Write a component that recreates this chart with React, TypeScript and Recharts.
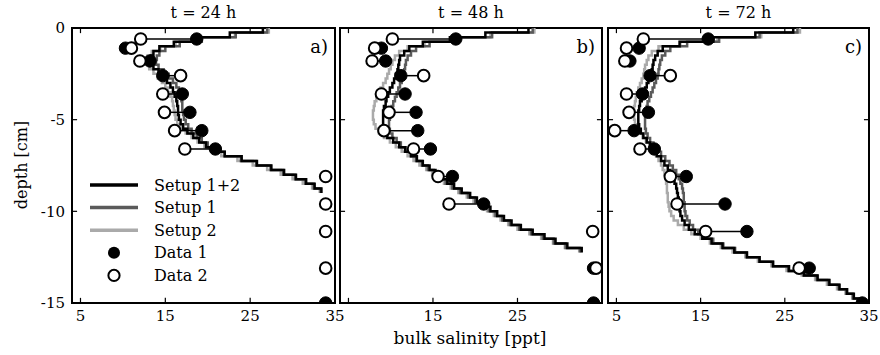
import React from 'react';
import { ComposedChart, Line, Scatter, XAxis, YAxis, ReferenceLine, ReferenceArea } from 'recharts';

// model grid: top of each layer (cm)
const DEPTH = [
  0, -0.25, -0.5, -0.75, -1, -1.25, -1.5, -1.75, -2, -2.25, -2.5, -2.75, -3, -3.25, -3.5, -3.75,
  -4, -4.25, -4.5, -4.75, -5, -5.25, -5.5, -5.75, -6, -6.25, -6.5, -6.75, -7, -7.25, -7.5, -7.75,
  -8, -8.25, -8.5, -8.75, -9, -9.25, -9.5, -9.75, -10, -10.25, -10.5, -10.75, -11, -11.25, -11.5,
  -11.75, -12, -12.25, -12.5, -12.75, -13, -13.25, -13.5, -13.75, -14, -14.25, -14.5, -14.75, -15,
];

const X_DOMAIN = [4, 35];
const Y_DOMAIN = [-15, 0];
const X_TICKS = [5, 15, 25, 35];
const Y_TICKS = [0, -5, -10, -15];
const X_LABELS_FULL = ['5', '15', '25', '35'];
const X_LABELS_MID = ['', '15', '25', ''];
const Y_LABELS = ['0', '-5', '-10', '-15'];

// t = 24 h
const S12_24 = [26.5, 22.6, 18.6, 16.0, 14.3, 13.6, 13.3, 13.2, 13.6, 14.2, 14.7, 15.2, 15.6, 15.9, 16.1, 16.3, 16.4, 16.5, 16.5, 16.6, 16.8, 17.1, 17.6, 18.3, 19.0, 19.8, 20.7, 22.0, 24.0, 25.8, 27.5, 29.0, 30.4, 31.6, 32.6, 33.4];
const S1_24 = [27.0, 23.3, 19.3, 16.7, 15.0, 14.3, 14.0, 13.9, 14.2, 14.8, 15.4, 15.9, 16.3, 16.6, 16.8, 16.9, 17.0, 17.0, 17.1, 17.2, 17.4, 17.7, 18.1, 18.7, 19.3, 20.0, 20.8, 22.0, 23.9, 25.7, 27.4, 28.9, 30.3, 31.5, 32.5, 33.3];
const S2_24 = [27.2, 23.2, 19.0, 16.2, 14.4, 13.4, 12.9, 12.8, 13.1, 13.6, 14.1, 14.6, 15.0, 15.3, 15.6, 15.8, 15.9, 16.0, 16.1, 16.2, 16.4, 16.8, 17.4, 18.1, 18.8, 19.6, 20.4, 21.6, 23.5, 25.3, 27.0, 28.6, 30.0, 31.2, 32.3, 33.2];

// t = 48 h
const S12_48 = [26.3, 21.2, 17.0, 13.8, 12.2, 11.6, 11.1, 11.0, 10.9, 10.8, 10.6, 10.4, 10.2, 9.9, 9.7, 9.5, 9.4, 9.2, 9.1, 9.1, 9.1, 9.1, 9.2, 9.6, 10.3, 11.0, 11.7, 12.4, 13.1, 13.8, 14.6, 15.3, 16.0, 16.7, 17.5, 18.4, 19.4, 20.2, 21.0, 21.8, 22.6, 23.4, 24.3, 25.4, 26.8, 28.2, 29.5, 30.9, 32.6];
const S1_48 = [26.8, 22.0, 17.8, 14.6, 13.0, 12.4, 12.0, 11.8, 11.7, 11.6, 11.5, 11.3, 11.1, 10.9, 10.7, 10.5, 10.3, 10.1, 10.0, 9.9, 9.8, 9.8, 9.9, 10.2, 10.7, 11.2, 11.8, 12.4, 13.0, 13.7, 14.4, 15.1, 15.8, 16.5, 17.3, 18.2, 19.2, 20.0, 20.8, 21.6, 22.4, 23.2, 24.1, 25.2, 26.6, 28.0, 29.3, 30.7, 32.4];
const S2_48 = [27.0, 21.8, 17.4, 14.0, 12.0, 11.0, 10.5, 10.2, 10.0, 9.8, 9.6, 9.4, 9.1, 8.8, 8.5, 8.3, 8.1, 8.0, 7.9, 7.9, 8.0, 8.2, 8.6, 9.2, 9.9, 10.6, 11.3, 12.0, 12.7, 13.4, 14.2, 14.9, 15.6, 16.3, 17.1, 18.0, 19.0, 19.8, 20.6, 21.4, 22.2, 23.0, 23.9, 25.0, 26.4, 27.8, 29.2, 30.6, 32.3];

// t = 72 h
const S12_72 = [26.0, 21.5, 16.5, 12.5, 10.5, 9.9, 9.6, 9.4, 9.3, 9.2, 9.0, 8.8, 8.6, 8.4, 8.2, 8.0, 7.8, 7.7, 7.6, 7.6, 7.6, 7.7, 7.9, 8.2, 8.6, 9.0, 9.4, 9.8, 10.3, 10.7, 11.1, 11.4, 11.7, 11.9, 12.1, 12.2, 12.3, 12.4, 12.4, 12.5, 12.6, 12.8, 13.1, 13.6, 14.3, 15.2, 16.3, 17.6, 19.0, 20.5, 22.0, 23.6, 25.5, 27.3, 28.9, 30.3, 31.5, 32.4, 33.2, 34.0];
const S1_72 = [26.5, 22.0, 17.2, 13.4, 11.4, 10.8, 10.4, 10.2, 10.1, 10.0, 9.9, 9.7, 9.5, 9.3, 9.1, 8.9, 8.7, 8.6, 8.5, 8.4, 8.4, 8.4, 8.5, 8.7, 9.0, 9.4, 9.8, 10.3, 10.8, 11.3, 11.7, 12.1, 12.4, 12.6, 12.8, 12.9, 13.0, 13.0, 13.1, 13.1, 13.2, 13.4, 13.7, 14.1, 14.7, 15.5, 16.5, 17.7, 19.1, 20.5, 22.0, 23.6, 25.4, 27.2, 28.8, 30.2, 31.4, 32.3, 33.1, 33.9];
const S2_72 = [26.8, 22.2, 17.0, 12.6, 10.0, 9.2, 8.8, 8.6, 8.4, 8.3, 8.2, 8.0, 7.8, 7.6, 7.4, 7.3, 7.2, 7.1, 7.1, 7.1, 7.2, 7.4, 7.7, 8.1, 8.5, 8.9, 9.3, 9.7, 10.0, 10.3, 10.5, 10.7, 10.8, 10.9, 11.0, 11.0, 11.1, 11.1, 11.2, 11.3, 11.5, 11.8, 12.3, 13.0, 13.9, 15.0, 16.1, 17.4, 18.8, 20.3, 21.8, 23.4, 25.2, 27.0, 28.6, 30.0, 31.2, 32.2, 33.0, 33.8];

// measured cores
const SAMPLE_DEPTH = [-0.6, -1.1, -1.8, -2.6, -3.6, -4.6, -5.6, -6.6, -8.1, -9.6, -11.1, -13.1, -15.0];
const DATA1_24 = [18.7, 10.3, 13.2, 14.7, 17.0, 17.9, 19.3, 20.9, null, null, null, null, 33.9];
const DATA2_24 = [12.1, 11.0, 12.0, 16.8, 14.7, 14.9, 16.1, 17.3, 33.9, 33.9, 33.9, 33.9, null];
const DATA1_48 = [17.7, 8.9, 9.4, 11.2, 11.7, 13.0, 13.2, 14.7, 17.3, 21.0, null, 34.0, 34.0];
const DATA2_48 = [10.2, 8.1, 7.8, 13.9, 8.9, 9.8, 9.2, 12.7, 15.6, 16.9, 33.9, 34.3, null];
const DATA1_72 = [15.9, 7.7, 6.6, 9.0, 8.1, 8.8, 7.1, 9.5, 13.3, 17.9, 20.5, 27.9, 34.2];
const DATA2_72 = [8.2, 6.2, 6.0, 11.4, 6.2, 6.5, 4.8, 7.8, 11.4, 12.2, 15.6, 26.7, null];

const W = 880;
const H = 355;
const PLOT_TOP = 28;
const PLOT_BOTTOM = 303;
const FONT = '"DejaVu Serif", serif';
const C_S12 = '#000000';
const C_S1 = '#5a5a5a';
const C_S2 = '#aaaaaa';
// inward tick length, in axis units (~5 px)
const TICK_DX = 0.6;
const TICK_DY = 0.28;

const PANELS = [
  { key: 'a', title: 't = 24 h', letter: 'a)', left: 72, right: 335, s12: S12_24, s1: S1_24, s2: S2_24, d1: DATA1_24, d2: DATA2_24, xLabels: X_LABELS_FULL, showY: true },
  { key: 'b', title: 't = 48 h', letter: 'b)', left: 340, right: 602, s12: S12_48, s1: S1_48, s2: S2_48, d1: DATA1_48, d2: DATA2_48, xLabels: X_LABELS_MID, showY: false },
  { key: 'c', title: 't = 72 h', letter: 'c)', left: 608, right: 869, s12: S12_72, s1: S1_72, s2: S2_72, d1: DATA1_72, d2: DATA2_72, xLabels: X_LABELS_FULL, showY: false },
];

const LEGEND = [
  { label: 'Setup 1+2', kind: 'line', color: C_S12 },
  { label: 'Setup 1', kind: 'line', color: C_S1 },
  { label: 'Setup 2', kind: 'line', color: C_S2 },
  { label: 'Data 1', kind: 'filled', color: '#000' },
  { label: 'Data 2', kind: 'open', color: '#000' },
];

// layer values -> points, with a closing point at the bottom of the last layer
function profile(vals: number[]) {
  const pts = vals.map((s, i) => ({ s, depth: DEPTH[i] }));
  pts.push({ s: vals[vals.length - 1], depth: DEPTH[vals.length] });
  return pts;
}

function samples(vals: (number | null)[]) {
  return vals
    .map((s, i) => ({ s, depth: SAMPLE_DEPTH[i] }))
    .filter((o) => o.s != null);
}

const FilledDot = (props: any) => (
  <circle cx={props.cx} cy={props.cy} r={6.2} fill="#000" stroke="#000" strokeWidth={1} />
);
const OpenDot = (props: any) => (
  <circle cx={props.cx} cy={props.cy} r={5.8} fill="#fff" stroke="#000" strokeWidth={2} />
);

function Panel({ p }: { p: any }) {
  const yw = p.showY ? 40 : 0;
  const pairs = SAMPLE_DEPTH.map((d, i) => ({ d, a: p.d1[i], b: p.d2[i] })).filter(
    (o) => o.a != null && o.b != null
  );
  const tickStyle = { fill: '#000', fontSize: 15, fontFamily: FONT };
  const [x0, x1] = X_DOMAIN;
  const [y0, y1] = Y_DOMAIN;

  return (
    <div style={{ position: 'absolute', left: 0, top: 0 }}>
      <ComposedChart
        width={W}
        height={H}
        layout="vertical"
        margin={{ top: PLOT_TOP, bottom: H - PLOT_BOTTOM - 30, left: p.left - yw, right: W - p.right }}
      >
        <XAxis
          type="number"
          dataKey="s"
          domain={X_DOMAIN}
          allowDataOverflow
          ticks={X_TICKS}
          interval={0}
          height={30}
          tickSize={5}
          tickMargin={2}
          tickFormatter={(v: number, i: number) => p.xLabels[i]}
          tick={tickStyle}
          tickLine={false}
          axisLine={false}
        />
        <YAxis
          type="number"
          dataKey="depth"
          domain={Y_DOMAIN}
          reversed
          allowDataOverflow
          ticks={Y_TICKS}
          interval={0}
          width={yw}
          tickSize={5}
          tickMargin={2}
          tickFormatter={(v: number, i: number) => Y_LABELS[i]}
          tick={p.showY ? tickStyle : false}
          tickLine={false}
          axisLine={false}
        />
        <Line data={profile(p.s2)} dataKey="s" type="stepBefore" stroke={C_S2} strokeWidth={2.5} dot={false} activeDot={false} isAnimationActive={false} />
        <Line data={profile(p.s1)} dataKey="s" type="stepBefore" stroke={C_S1} strokeWidth={2.5} dot={false} activeDot={false} isAnimationActive={false} />
        <Line data={profile(p.s12)} dataKey="s" type="stepBefore" stroke={C_S12} strokeWidth={2.5} dot={false} activeDot={false} isAnimationActive={false} />
        {pairs.map((o) => (
          <ReferenceLine
            key={o.d}
            segment={[{ x: o.a, y: o.d }, { x: o.b, y: o.d }]}
            stroke="#000"
            strokeWidth={1.5}
          />
        ))}
        <Scatter data={samples(p.d1)} shape={FilledDot} isAnimationActive={false} />
        <Scatter data={samples(p.d2)} shape={OpenDot} isAnimationActive={false} />
        {/* inward ticks on all four sides */}
        {X_TICKS.map((t) => (
          <ReferenceLine key={'xb' + t} segment={[{ x: t, y: y0 }, { x: t, y: y0 + TICK_DY }]} stroke="#000" strokeWidth={1.2} ifOverflow="visible" />
        ))}
        {X_TICKS.map((t) => (
          <ReferenceLine key={'xt' + t} segment={[{ x: t, y: y1 }, { x: t, y: y1 - TICK_DY }]} stroke="#000" strokeWidth={1.2} ifOverflow="visible" />
        ))}
        {Y_TICKS.map((t) => (
          <ReferenceLine key={'yl' + t} segment={[{ x: x0, y: t }, { x: x0 + TICK_DX, y: t }]} stroke="#000" strokeWidth={1.2} ifOverflow="visible" />
        ))}
        {Y_TICKS.map((t) => (
          <ReferenceLine key={'yr' + t} segment={[{ x: x1, y: t }, { x: x1 - TICK_DX, y: t }]} stroke="#000" strokeWidth={1.2} ifOverflow="visible" />
        ))}
        {/* panel frame */}
        <ReferenceArea x1={x0} x2={x1} y1={y0} y2={y1} fill="none" fillOpacity={0} stroke="#000" strokeWidth={2} strokeOpacity={1} ifOverflow="visible" />
      </ComposedChart>
    </div>
  );
}

export default function App() {
  return (
    <div style={{ position: 'absolute', left: 0, top: 0, width: W, height: H, background: '#fff', fontFamily: FONT }}>
      {PANELS.map((p) => (
        <Panel key={p.key} p={p} />
      ))}
      <svg width={W} height={H} style={{ position: 'absolute', left: 0, top: 0, pointerEvents: 'none' }}>
        {PANELS.map((p) => (
          <g key={p.key} fontFamily={FONT} fill="#000">
            <text x={(p.left + p.right) / 2} y={18} fontSize={16} textAnchor="middle">
              {p.title}
            </text>
            <text x={p.right - 7} y={53} fontSize={18} textAnchor="end">
              {p.letter}
            </text>
          </g>
        ))}
        <text x={470} y={344} fontSize={17} textAnchor="middle" fontFamily={FONT}>
          bulk salinity [ppt]
        </text>
        <text
          x={21}
          y={165}
          fontSize={16}
          textAnchor="middle"
          dominantBaseline="central"
          fontFamily={FONT}
          transform="rotate(-90 21 165)"
        >
          depth [cm]
        </text>
        {LEGEND.map((e, i) => {
          const y = 185 + i * 22.6;
          return (
            <g key={e.label}>
              {e.kind === 'line' && <line x1={90} x2={138} y1={y} y2={y} stroke={e.color} strokeWidth={3.5} />}
              {e.kind === 'filled' && <circle cx={114} cy={y} r={6} fill="#000" />}
              {e.kind === 'open' && <circle cx={114} cy={y} r={5.6} fill="#fff" stroke="#000" strokeWidth={2} />}
              <text x={154} y={y} fontSize={16} dominantBaseline="central" fontFamily={FONT}>
                {e.label}
              </text>
            </g>
          );
        })}
      </svg>
    </div>
  );
}
